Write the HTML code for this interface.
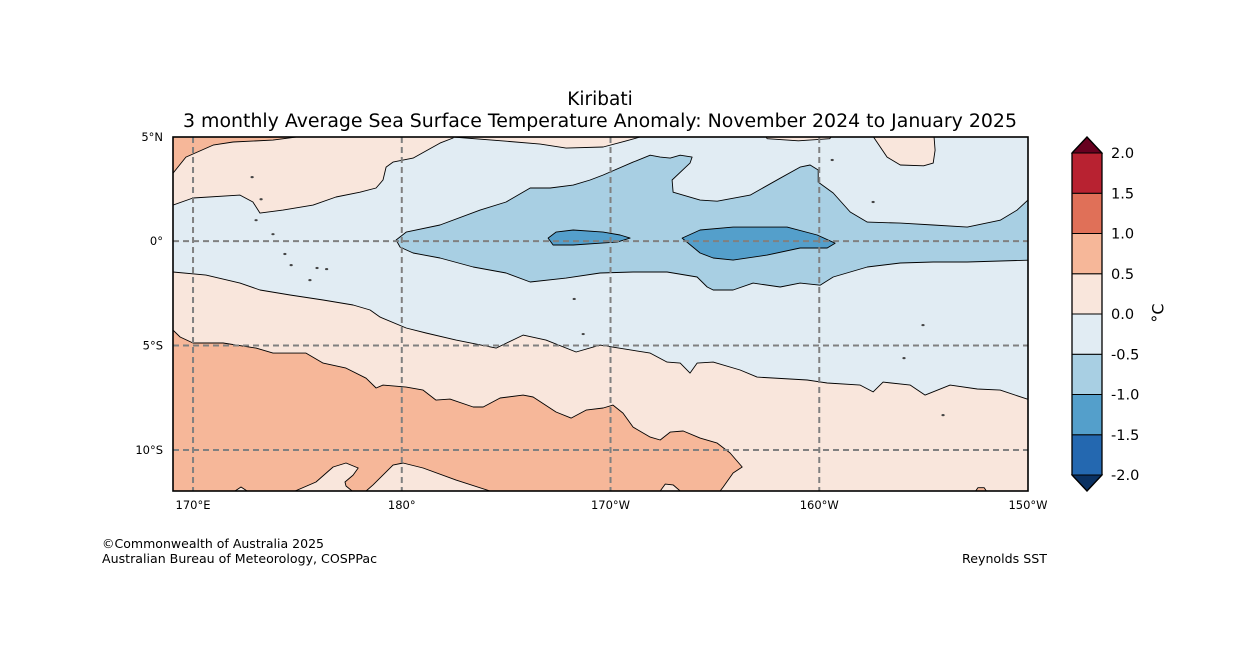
<!DOCTYPE html>
<html><head><meta charset="utf-8">
<style>
body{margin:0;background:#fff;width:1258px;height:667px;overflow:hidden;font-family:"Liberation Sans","DejaVu Sans",sans-serif}
svg text{font-family:"DejaVu Sans","Liberation Sans",sans-serif}
</style></head>
<body>
<svg id="chart" width="1258" height="667" viewBox="0 0 1258 667" xmlns="http://www.w3.org/2000/svg">
<defs><clipPath id="plotclip"><rect x="173" y="137" width="855" height="354"/></clipPath></defs>
<text x="600" y="105" font-size="18.5" text-anchor="middle">Kiribati</text>
<text x="600" y="127" font-size="18.5" text-anchor="middle" textLength="834" lengthAdjust="spacingAndGlyphs">3 monthly Average Sea Surface Temperature Anomaly: November 2024 to January 2025</text>
<g id="map" clip-path="url(#plotclip)"></g>
<g id="grid"></g>
<rect x="173" y="137" width="855" height="354" fill="none" stroke="#000" stroke-width="1.6"/>
<g id="axes"></g>
<g id="cbar"></g>
<text x="102" y="548" font-size="12.3" textLength="222" lengthAdjust="spacingAndGlyphs">©Commonwealth of Australia 2025</text>
<text x="102" y="563" font-size="12.3" textLength="275" lengthAdjust="spacingAndGlyphs">Australian Bureau of Meteorology, COSPPac</text>
<text x="1047" y="563" font-size="12.3" text-anchor="end" textLength="85" lengthAdjust="spacingAndGlyphs">Reynolds SST</text>
</svg>
<script>
// ---- data ----
const lonTicks=[170,180,190,200,210];
const lonTickLabels=["170°E","180°","170°W","160°W","150°W"];
const latTicks=[5,0,-5,-10];
const latTickLabels=["5°N","0°","5°S","10°S"];
const cbarLevels=[-2.0,-1.5,-1.0,-0.5,0.0,0.5,1.0,1.5,2.0];
const cbarColors=["#2468b0","#549fcb","#a8cfe3","#e1ecf3","#f9e6dc","#f6b799","#e07058","#b82231"];
const orangeTopLeft=[[168.5,5.5],[168.5,3.25],[169.04,3.25],[169.66,4.02],[170.96,4.59],[171.92,4.74],[173.83,4.83],[174.94,4.98],[174.94,5.5]];
const lightBlue=[[168.5,1.72],[169.04,1.72],[170.0,2.06],[172.25,2.2],[172.87,1.87],[173.21,1.34],[174.31,1.48],[175.75,1.72],[176.85,2.11],[178.0,2.34],[178.77,2.54],[179.1,2.92],[179.25,3.54],[179.58,3.78],[180.54,3.97],[181.83,4.69],[182.46,4.93],[182.46,5.5],[210.5,5.5],[210.5,-7.56],[209.96,-7.56],[208.67,-7.13],[207.57,-7.08],[206.27,-6.89],[205.07,-7.37],[204.36,-6.89],[203.06,-6.75],[202.58,-7.22],[201.96,-6.89],[200.38,-6.79],[199.42,-6.65],[197.02,-6.51],[196.21,-6.17],[194.92,-5.79],[194.15,-5.84],[193.81,-6.32],[193.34,-5.84],[192.71,-5.79],[191.9,-5.36],[189.5,-4.98],[188.35,-5.31],[186.91,-4.74],[185.81,-4.5],[184.52,-5.12],[182.6,-4.74],[181.16,-4.4],[180.21,-4.16],[178.96,-3.64],[178.48,-3.3],[177.67,-3.06],[176.23,-2.82],[174.65,-2.58],[173.21,-2.34],[172.25,-2.01],[170.62,-1.63],[169.04,-1.48],[168.5,-1.48]];
const peachTopSliver=[[182.46,5.5],[182.46,4.98],[185.0,4.78],[186.63,4.64],[187.87,4.45],[189.65,4.5],[190.7,4.78],[191.42,4.98],[191.42,5.5]];
const peachTopSmall=[[197.2,5.5],[197.5,4.9],[199.0,4.8],[200.5,4.9],[201.0,5.5]];
const peachTopRight=[[202.5,5.5],[202.6,4.98],[203.25,4.02],[203.88,3.64],[205.0,3.6],[205.46,3.73],[205.55,4.35],[205.46,5.5]];
const mediumBlue=[[179.73,0.05],[180.21,0.43],[181.83,0.77],[183.75,1.48],[185.0,1.87],[186.15,2.54],[187.11,2.54],[188.21,2.68],[189.02,2.92],[189.65,3.16],[191.08,3.78],[191.9,4.11],[192.38,4.02],[192.86,3.97],[193.34,4.11],[193.91,4.02],[193.81,3.73],[192.95,2.92],[193.0,2.34],[194.29,1.96],[195.11,1.91],[196.69,2.2],[198.13,3.01],[199.08,3.54],[199.56,3.64],[199.95,3.4],[199.95,2.82],[200.67,2.3],[201.48,1.39],[202.3,0.91],[203.88,0.86],[205.46,0.77],[207.09,0.67],[208.67,1.0],[209.48,1.48],[210.1,2.06],[210.5,2.06],[210.5,-0.91],[210.1,-0.91],[207.09,-1.0],[205.46,-1.0],[203.88,-1.05],[202.3,-1.24],[200.67,-1.72],[200.04,-2.11],[199.08,-2.01],[198.13,-2.2],[196.83,-2.01],[195.87,-2.34],[194.92,-2.34],[194.63,-2.2],[194.15,-1.72],[192.71,-1.48],[191.08,-1.48],[189.5,-1.53],[187.87,-1.77],[186.15,-1.96],[185.0,-1.53],[183.42,-1.24],[181.83,-0.81],[180.54,-0.57],[179.92,-0.29]];
const darkBlob1=[[187.01,0.14],[187.39,0.43],[188.21,0.53],[189.65,0.43],[190.46,0.29],[190.94,0.14],[190.32,-0.05],[189.5,-0.1],[188.21,-0.19],[187.25,-0.19]];
const darkBlob2=[[193.43,0.14],[194.29,0.53],[195.87,0.67],[198.46,0.67],[199.9,0.29],[200.76,-0.1],[200.38,-0.33],[199.08,-0.33],[197.5,-0.67],[195.87,-0.91],[194.92,-0.81],[194.29,-0.57]];
const orangeBottom=[[168.5,-4.26],[169.04,-4.26],[169.38,-4.59],[170.0,-4.88],[171.44,-4.88],[173.02,-5.12],[173.83,-5.36],[175.41,-5.36],[176.23,-5.84],[177.33,-6.08],[178.29,-6.56],[178.77,-7.03],[179.1,-6.89],[180.21,-6.99],[181.02,-7.13],[181.64,-7.61],[182.31,-7.56],[183.42,-7.94],[183.9,-7.94],[184.71,-7.51],[185.81,-7.37],[186.29,-7.46],[187.39,-8.18],[188.11,-8.47],[188.83,-8.09],[189.65,-7.99],[190.12,-7.85],[190.6,-8.23],[191.08,-8.9],[191.9,-9.38],[192.38,-9.52],[192.86,-9.14],[193.48,-9.09],[194.29,-9.43],[195.11,-9.67],[195.73,-10.14],[196.31,-10.81],[195.87,-11.1],[195.4,-11.77],[195.25,-11.96],[195.25,-12.5],[193.34,-12.5],[193.34,-11.96],[193.0,-11.67],[192.62,-11.63],[192.38,-11.96],[184.23,-11.96],[182.6,-11.44],[181.02,-10.86],[180.06,-10.62],[179.58,-10.72],[178.62,-11.67],[178.29,-11.96],[177.62,-11.96],[177.33,-11.72],[177.28,-11.53],[177.67,-11.2],[177.91,-10.86],[177.33,-10.62],[176.71,-10.81],[175.89,-11.53],[174.89,-11.96],[172.59,-11.96],[172.3,-11.77],[172.01,-11.96],[168.5,-12.5]];
const orangeBottomRight=[[207.4,-12.1],[207.6,-11.8],[207.9,-11.8],[208.1,-12.1]];
const islands=[[172.83,3.06],[173.26,2.0],[173.02,1.0],[173.83,0.33],[174.4,-0.62],[174.7,-1.15],[175.94,-1.29],[176.4,-1.34],[175.6,-1.87],[188.26,-2.77],[188.69,-4.45],[200.62,3.88],[202.58,1.87],[204.97,-4.02],[204.06,-5.6],[205.93,-8.33]];

// ---- axes ----
const X0=173,X1=1028,Y0=137,Y1=491,LON0=169.04,LON1=210,LAT0=-11.96,LAT1=4.98;
function xs(lon){return X0+(lon-LON0)/(LON1-LON0)*(X1-X0);}
function ys(lat){return Y1-(lat-LAT0)/(LAT1-LAT0)*(Y1-Y0);}
const NS='http://www.w3.org/2000/svg';
function mk(tag,attrs,parent){const e=document.createElementNS(NS,tag);for(const k in attrs)e.setAttribute(k,attrs[k]);parent.appendChild(e);return e;}
const map=document.getElementById('map');
const bg=mk('rect',{x:X0,y:Y0,width:X1-X0,height:Y1-Y0,fill:cbarColors[4]},map);


function poly(pts,fill,name){
  const d=pts.map((p,i)=>(i?'L':'M')+xs(p[0]).toFixed(1)+' '+ys(p[1]).toFixed(1)).join(' ')+'Z';
  const e=mk('path',{d:d,fill:fill,stroke:'#000','stroke-width':0.9,'stroke-linejoin':'round'},map);
  
  
}
poly(orangeTopLeft,cbarColors[5],'warm-anomaly-region-northwest');
poly(lightBlue,cbarColors[3],'cool-anomaly-band');
poly(peachTopSliver,cbarColors[4],'neutral-region-north');
poly(peachTopSmall,cbarColors[4],'neutral-region-north-small');
poly(peachTopRight,cbarColors[4],'neutral-region-northeast');
poly(mediumBlue,cbarColors[2],'cold-tongue-region');
poly(darkBlob1,cbarColors[1],'strong-cold-anomaly-west');
poly(darkBlob2,cbarColors[1],'strong-cold-anomaly-east');
poly(orangeBottom,cbarColors[5],'warm-anomaly-region-south');
poly(orangeBottomRight,cbarColors[5],'warm-anomaly-spot-southeast');
islands.forEach(p=>{
  const e=mk('ellipse',{cx:xs(p[0]),cy:ys(p[1]),rx:1.6,ry:1.1,fill:'#444'},map);
  
  
});
const grid=document.getElementById('grid'),axes=document.getElementById('axes');
lonTicks.forEach((lon,i)=>{
  if(lon<LON1){const l=mk('line',{x1:xs(lon),x2:xs(lon),y1:Y0,y2:Y1,stroke:'#808080','stroke-width':2,'stroke-dasharray':'6,4'},grid);
  
  }
  const t=mk('text',{x:xs(lon),y:509,'font-size':11.5,'text-anchor':'middle'},axes);
  t.textContent=lonTickLabels[i];
  
  
});
latTicks.forEach((lat,i)=>{
  if(lat<LAT1){const l=mk('line',{x1:X0,x2:X1,y1:ys(lat),y2:ys(lat),stroke:'#808080','stroke-width':2,'stroke-dasharray':'6,4'},grid);
  
  }
  const t=mk('text',{x:163,y:Math.max(ys(lat),Y0)+4,'font-size':11.5,'text-anchor':'end'},axes);
  t.textContent=latTickLabels[i];
  
  
});
// ---- colorbar ----
const cb=document.getElementById('cbar');
const CB0=153,CB1=475,CX=1072,CW=30;
function cy(v){return CB1-(v-cbarLevels[0])/(cbarLevels[cbarLevels.length-1]-cbarLevels[0])*(CB1-CB0);}
cbarColors.forEach((c,i)=>{
  const r=mk('rect',{x:CX,y:cy(cbarLevels[i+1]),width:CW,height:cy(cbarLevels[i])-cy(cbarLevels[i+1]),fill:c,stroke:'#000','stroke-width':1},cb);
  
  
});
const tt=mk('path',{d:`M${CX} ${CB0}L${CX+CW/2} 137L${CX+CW} ${CB0}Z`,fill:'#67001f',stroke:'#000','stroke-width':1},cb);


const tb=mk('path',{d:`M${CX} ${CB1}L${CX+CW/2} 491L${CX+CW} ${CB1}Z`,fill:'#0a3162',stroke:'#000','stroke-width':1},cb);


const fr=mk('path',{d:`M${CX} ${CB0}L${CX+CW/2} 137L${CX+CW} ${CB0}L${CX+CW} ${CB1}L${CX+CW/2} 491L${CX} ${CB1}Z`,fill:'none',stroke:'#000','stroke-width':1.3},cb);


cbarLevels.forEach(v=>{
  const t=mk('text',{x:1111,y:cy(v)+5,'font-size':14.5},cb);
  t.textContent=v.toFixed(1);
  
  
});
const ul=mk('text',{x:1158,y:313,'font-size':16,transform:'rotate(-90 1158 313)','text-anchor':'middle','dominant-baseline':'central'},cb);
ul.textContent='°C';


</script>
</body></html>
